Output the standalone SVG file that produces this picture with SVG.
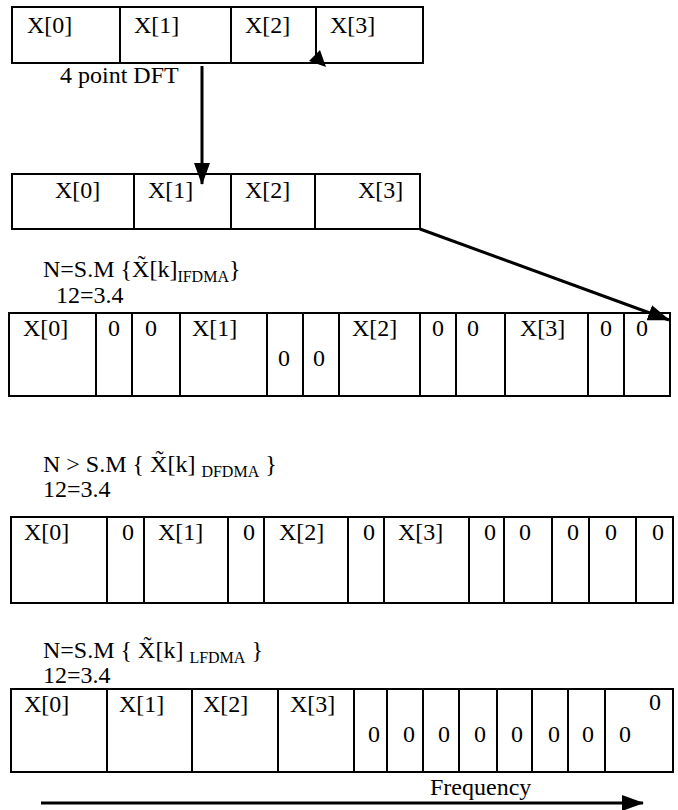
<svg xmlns="http://www.w3.org/2000/svg" width="678" height="810" viewBox="0 0 678 810">
<defs>
<style>
.b{fill:#fff;stroke:#000;stroke-width:2}
.d{stroke:#000;stroke-width:2;fill:none}
text{font-family:"Liberation Serif","Times New Roman","DejaVu Serif",serif;font-size:24px;fill:#000}
.s{font-size:16px}
.c{stroke:#000;stroke-width:3;fill:none}
</style>
<marker id="ahL" markerWidth="22" markerHeight="16" refX="21" refY="8" orient="auto" markerUnits="userSpaceOnUse">
<path d="M0,0 L22,8 L0,16 Z" fill="#000"/>
</marker>
</defs>
<rect width="678" height="810" fill="#fff"/>

<g id="dft-input" font-family="Liberation Serif, serif">
<rect class="b" x="12" y="7" width="411" height="56"/>
<path class="d" d="M120,7V63M231,7V63M316,7V63"/>
<text x="27" y="33">X[0]</text>
<text x="134" y="33">X[1]</text>
<text x="245" y="33">X[2]</text>
<text x="330" y="33">X[3]</text>
</g>

<g id="dft-label">
<text x="60" y="83">4 point DFT</text>
</g>

<g id="dft-output">
<rect class="b" x="12" y="174" width="408" height="55"/>
<path class="d" d="M134,174V229M231,174V229M315,174V229"/>
<text x="55" y="198">X[0]</text>
<text x="148" y="198">X[1]</text>
<text x="245" y="198">X[2]</text>
<text x="358" y="198">X[3]</text>
</g>

<g id="ifdma-label">
<text x="43" y="277">N=S.M {X&#771;[k]<tspan class="s" dy="5">IFDMA</tspan><tspan dy="-5">}</tspan></text>
<text x="56" y="303">12=3.4</text>
</g>

<g id="ifdma">
<rect class="b" x="9" y="313" width="661" height="83"/>
<path class="d" d="M96,313V396M132,313V396M180,313V396M267,313V396M303,313V396M339,313V396M420,313V396M456,313V396M505,313V396M588,313V396M624,313V396"/>
<text x="23" y="336">X[0]</text>
<text x="108" y="336">0</text>
<text x="145" y="336">0</text>
<text x="192" y="336">X[1]</text>
<text x="278" y="366">0</text>
<text x="313" y="366">0</text>
<text x="352" y="336">X[2]</text>
<text x="432" y="336">0</text>
<text x="467" y="336">0</text>
<text x="520" y="336">X[3]</text>
<text x="600" y="336">0</text>
<text x="636" y="336">0</text>
</g>

<g id="dfdma-label">
<text x="43" y="472">N &gt; S.M { X&#771;[k] <tspan class="s" dy="5">DFDMA</tspan><tspan dy="-5"> }</tspan></text>
<text x="43" y="497">12=3.4</text>
</g>

<g id="dfdma">
<rect class="b" x="11" y="517" width="662" height="86"/>
<path class="d" d="M107,517V603M144,517V603M228,517V603M264,517V603M348,517V603M384,517V603M469,517V603M504,517V603M552,517V603M589,517V603M636,517V603"/>
<text x="24" y="540">X[0]</text>
<text x="122" y="540">0</text>
<text x="158" y="540">X[1]</text>
<text x="243" y="540">0</text>
<text x="279" y="540">X[2]</text>
<text x="363" y="540">0</text>
<text x="398" y="540">X[3]</text>
<text x="484" y="540">0</text>
<text x="519" y="540">0</text>
<text x="567" y="540">0</text>
<text x="605" y="540">0</text>
<text x="652" y="540">0</text>
</g>

<g id="lfdma-label">
<text x="43" y="658">N=S.M { X&#771;[k] <tspan class="s" dy="5">LFDMA</tspan><tspan dy="-5"> }</tspan></text>
<text x="43" y="683">12=3.4</text>
</g>

<g id="lfdma">
<rect class="b" x="11" y="689" width="662" height="83"/>
<path class="d" d="M107,689V772M192,689V772M278,689V772M354,689V772M387,689V772M423,689V772M459,689V772M497,689V772M532,689V772M568,689V772M605,689V772"/>
<text x="24" y="712">X[0]</text>
<text x="119" y="712">X[1]</text>
<text x="203" y="712">X[2]</text>
<text x="290" y="712">X[3]</text>
<text x="368" y="742">0</text>
<text x="403" y="742">0</text>
<text x="438" y="742">0</text>
<text x="474" y="742">0</text>
<text x="511" y="742">0</text>
<text x="548" y="742">0</text>
<text x="582" y="742">0</text>
<text x="619" y="742">0</text>
<text x="649" y="710">0</text>
</g>

<g id="frequency-label">
<text x="430" y="795">Frequency</text>
</g>

<g id="connectors">
<line class="c" x1="202" y1="66" x2="202" y2="184" marker-end="url(#ahL)"/>
<line class="c" x1="420" y1="229" x2="669" y2="320" marker-end="url(#ahL)"/>
<polygon points="320,50 309,61 326,67" fill="#000"/>
<line class="c" x1="41" y1="803" x2="643" y2="803" marker-end="url(#ahL)"/>
</g>
</svg>
